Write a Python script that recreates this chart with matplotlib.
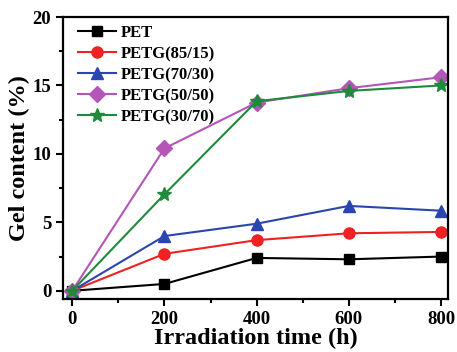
import matplotlib.pyplot as plt
from matplotlib.ticker import MultipleLocator

plt.rcParams['font.family'] = ['Liberation Serif', 'DejaVu Serif']
plt.rcParams['font.weight'] = 'bold'

time_h = [0, 200, 400, 600, 800]
pet = [0, 0.5, 2.4, 2.3, 2.5]
petg_85_15 = [0, 2.7, 3.7, 4.2, 4.3]
petg_70_30 = [0, 4.0, 4.9, 6.2, 5.85]
petg_50_50 = [0, 10.4, 13.75, 14.8, 15.6]
petg_30_70 = [0, 7.05, 13.85, 14.6, 15.0]

labels = ['PET', 'PETG(85/15)', 'PETG(70/30)', 'PETG(50/50)', 'PETG(30/70)']
series = [pet, petg_85_15, petg_70_30, petg_50_50, petg_30_70]
colors = ['black', '#ee2222', '#2a45b0', '#b455b8', '#1f8a3c']
markers = ['s', 'o', '^', 'D', '*']
msizes = [7, 8, 8, 8, 10]

fig = plt.figure(figsize=(4.57, 3.52), dpi=100)
ax = fig.add_axes([63 / 457, 53 / 352, 385 / 457, 282 / 352])

for y, lab, c, m, ms in zip(series, labels, colors, markers, msizes):
    ax.plot(time_h, y, color=c, marker=m, markersize=ms, linewidth=1.5, label=lab)

ax.set_xlim(-20, 815)
ax.set_ylim(-0.6, 20)
ax.xaxis.set_major_locator(MultipleLocator(200))
ax.xaxis.set_minor_locator(MultipleLocator(100))
ax.yaxis.set_major_locator(MultipleLocator(5))
ax.yaxis.set_minor_locator(MultipleLocator(2.5))
ax.tick_params(which='both', direction='out', width=1.5, labelsize=13.5, top=False, right=False)
ax.tick_params(which='major', length=5)
ax.tick_params(which='minor', length=3)
for s in ax.spines.values():
    s.set_linewidth(1.6)

ax.set_xlabel('Irradiation time (h)', fontsize=17.5, fontweight='bold', labelpad=0)
ax.set_ylabel('Gel content (%)', fontsize=17.5, fontweight='bold', labelpad=2)

ax.legend(loc='upper left', bbox_to_anchor=(0.022, 0.995), frameon=False, fontsize=12,
          handlelength=2.3, handletextpad=0.25, labelspacing=0.3, borderaxespad=0)

fig.savefig('out.png', dpi=100)
